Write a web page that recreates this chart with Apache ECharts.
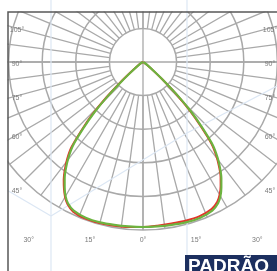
<!DOCTYPE html>
<html>
<head>
<meta charset="utf-8">
<script src="https://cdn.jsdelivr.net/npm/echarts@6/dist/echarts.min.js"></script>
<style>
  html, body { margin: 0; padding: 0; background: #fff; }
  #chart { width: 277px; height: 271px; }
</style>
</head>
<body>
<div id="chart"></div>
<script>
// angles from nadir (0 = straight down), negative = left side
var angles = [-90, -70, -60, -55, -50, -48, -46, -44, -42, -40, -38, -36, -34, -32, -30, -28, -25, -20, -15, -10, -5,
    0, 5, 10, 15, 20, 25, 28, 30, 32, 34, 36, 38, 40, 42, 44, 46, 48, 50, 55, 60, 70, 90];
var redValues = [0, 1, 7, 17, 50, 92, 152, 217, 274, 332, 367, 396, 422, 444, 464, 479, 492, 498, 497, 495, 493,
    491, 489, 488, 489, 489, 483, 471, 456, 436, 413, 385, 354, 316, 256, 199, 135, 77, 41, 13, 5, 1, 0];
var greenValues = [0, 1, 6, 15, 45, 83, 143, 208, 265, 324, 360, 390, 417, 440, 461, 476, 488, 494, 494, 492, 491,
    491, 491, 492, 494, 494, 488, 476, 461, 440, 417, 390, 360, 324, 265, 208, 143, 83, 45, 15, 6, 1, 0];

var sideLabelAngles = [105, 90, 75, 60, 45];
var sideLabels = ['105°', '90°', '75°', '60°', '45°'];
var bottomLabelAngles = [-30, -15, 0, 15, 30];
var bottomLabels = ['30°', '15°', '0°', '15°', '30°'];

var cx = 143, cy = 62, R = 168;
var gridColor = '#a9a9a9';

var chart = echarts.init(document.getElementById('chart'));

function pairs(vals) {
    var out = [];
    for (var i = 0; i < angles.length; i++) out.push([vals[i], angles[i]]);
    return out;
}

var graphics = [];
// faint background pattern
var blue = { stroke: '#dce7f4', lineWidth: 1.2 };
[[51, 12, 51, 271], [187, 12, 187, 271], [0, 186, 51, 216], [51, 216, 187, 133], [187, 133, 277, 86]].forEach(function (l) {
    graphics.push({ type: 'line', z: 1, shape: { x1: l[0], y1: l[1], x2: l[2], y2: l[3] }, style: blue });
});
// masks outside the frame
graphics.push({ type: 'rect', z: 100, shape: { x: 0, y: 0, width: 277, height: 11.5 }, style: { fill: '#fff' } });
graphics.push({ type: 'rect', z: 100, shape: { x: 0, y: 0, width: 7.5, height: 271 }, style: { fill: '#fff' } });
graphics.push({ type: 'line', z: 101, shape: { x1: 51, y1: 0, x2: 51, y2: 12 }, style: blue });
graphics.push({ type: 'line', z: 101, shape: { x1: 187, y1: 0, x2: 187, y2: 12 }, style: blue });
// frame
graphics.push({ type: 'polyline', z: 102, shape: { points: [[8, 271], [8, 12], [277, 12]] }, style: { stroke: '#585858', lineWidth: 1.5, fill: null } });

// angle labels
var lblStyle = { fill: '#7a7a7a', fontSize: 7, fontFamily: 'Liberation Sans', textAlign: 'center', textVerticalAlign: 'middle' };
sideLabelAngles.forEach(function (a, i) {
    var y = cy + 127 / Math.tan(a * Math.PI / 180) + 2;
    [17, 270].forEach(function (x) {
        graphics.push({ type: 'text', z: 103, style: Object.assign({ text: sideLabels[i], x: x, y: y }, lblStyle) });
    });
});
bottomLabelAngles.forEach(function (a, i) {
    var x = cx + 198 * Math.tan(a * Math.PI / 180);
    graphics.push({ type: 'text', z: 103, style: Object.assign({ text: bottomLabels[i], x: x, y: 240 }, lblStyle) });
});

// badge bottom right
graphics.push({ type: 'rect', z: 104, shape: { x: 185, y: 255, width: 92, height: 16 }, style: { fill: '#1c2f5f' } });
graphics.push({ type: 'text', z: 105, style: { text: 'PADRÃO', x: 188, y: 257, fill: '#fff',
    fontSize: 19, fontWeight: 'bold', fontFamily: 'Liberation Sans', textVerticalAlign: 'top' } });

var hidden = { show: false };
var option = {
    animation: false,
    polar: [
        { center: [cx, cy], radius: [33.6, R] },
        { center: [cx, cy], radius: R }
    ],
    angleAxis: [
        {
            polarIndex: 0, type: 'value', min: -180, max: 180, interval: 7.5,
            startAngle: 90, clockwise: false,
            axisLine: hidden, axisTick: hidden, axisLabel: hidden,
            splitLine: { show: true, lineStyle: { color: gridColor, width: 1.3 } }
        },
        {
            polarIndex: 1, type: 'value', min: -180, max: 180, interval: 90,
            startAngle: 90, clockwise: false,
            axisLine: hidden, axisTick: hidden, axisLabel: hidden,
            splitLine: { show: true, lineStyle: { color: gridColor, width: 1.3 } }
        }
    ],
    radiusAxis: [
        {
            polarIndex: 0, type: 'value', min: 0, max: 4, interval: 1,
            axisLine: hidden, axisTick: hidden, axisLabel: hidden,
            splitLine: { show: true, lineStyle: { color: gridColor, width: 1.5 } }
        },
        {
            polarIndex: 1, type: 'value', min: 0, max: 500,
            axisLine: hidden, axisTick: hidden, axisLabel: hidden, splitLine: hidden
        }
    ],
    series: [
        {
            name: 'red', type: 'line', coordinateSystem: 'polar', polarIndex: 1, z: 5,
            symbol: 'none', smooth: 0.3, data: pairs(redValues),
            lineStyle: { color: '#e2352b', width: 2 }
        },
        {
            name: 'green', type: 'line', coordinateSystem: 'polar', polarIndex: 1, z: 6,
            symbol: 'none', smooth: 0.3, data: pairs(greenValues),
            lineStyle: { color: '#6db340', width: 2.2 }
        }
    ],
    graphic: { elements: graphics }
};
chart.setOption(option);
</script>
</body>
</html>
